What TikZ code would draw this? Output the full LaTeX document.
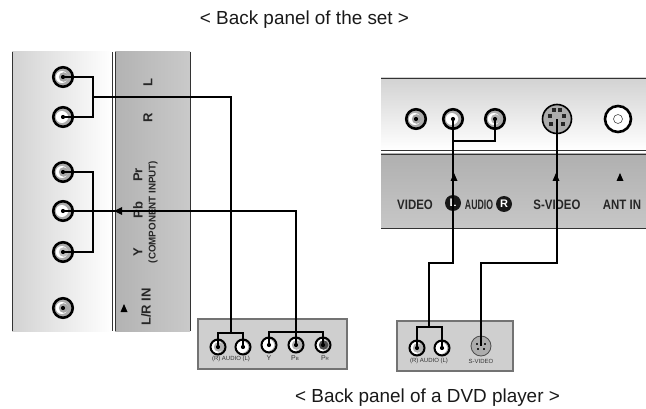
\documentclass[tikz,border=0pt]{standalone}
\usepackage{fontspec}
\setmainfont{Liberation Sans}
\newfontface\panelfont{Liberation Sans Bold}
\usepackage{tikz}
\usetikzlibrary{arrows.meta}

\tikzset{
    jack/.style={circle,draw=black,line width=2.6pt,fill=gray!65,inner sep=0pt,minimum size=19.5pt,
        path picture={\fill[white] ([xshift=-1.2pt]path picture bounding box.center) circle (6pt);
            \fill[#1] ([xshift=0.6pt]path picture bounding box.center) circle (4.8pt);
            \fill[black] (path picture bounding box.center) circle (2.1pt);}},
    smalljack/.style={jack=#1,line width=2pt,minimum size=15pt},
    wire/.style={line width=1.2pt,black},
    panellabel/.style={font=\panelfont\fontsize{13}{13}\selectfont,text=black!85,inner sep=0pt},
    sidelabel/.style={panellabel,rotate=90},
    boxlabel/.style={font=\fontsize{6}{6}\selectfont,text=black!80,inner sep=0pt},
    biglabel/.style={boxlabel,font=\fontsize{7}{7}\selectfont},
    title/.style={font=\fontsize{18.9}{20}\selectfont,text=black!90,inner sep=0pt},
    capmark/.style={circle,fill=black!90,text=white,inner sep=0pt,minimum size=16pt,font=\panelfont\fontsize{11}{11}\selectfont}
}

\begin{document}
\begin{tikzpicture}[x=1pt,y=-1pt,>=Latex]
\useasboundingbox (0,0) rectangle (646,409);

% Left panel
\shade[left color=gray!35,right color=white] (12,52) rectangle (112,331);
\shade[left color=gray!60,right color=gray!42] (115,52) rectangle (190,331);
\foreach \x in {12,112,115,190}{
    \draw[line width=0.8pt,black!80] (\x,52) -- (\x,331);
}

% Right panel
\shade[top color=gray!35,bottom color=white] (381,78) rectangle (646,150);
\shade[top color=gray!62,bottom color=gray!44] (381,154) rectangle (646,228);
\foreach \y in {78,150,154,228}{
    \draw[line width=0.8pt,black!80] (381,\y) -- (646,\y);
}

% DVD boxes
\draw[gray!90!black,line width=1.2pt,fill=gray!38] (198,319) rectangle (347,369);
\draw[gray!90!black,line width=1.2pt,fill=gray!38] (397,321) rectangle (513,371);

% Titles
\node[title] (titleset) at (304.5,20) {< Back panel of the set >};
\node[title] (titledvd) at (427.5,398) {< Back panel of a DVD player >};

% Left panel labels
\foreach \name/\y/\lab in {labl/83/L,labr/118/R}{
    \node[sidelabel] (\name) at (148,\y) {\lab};
}
\foreach \name/\y/\lab in {labpr/175/Pr,labpb/210/Pb,laby/252/Y}{
    \node[sidelabel] (\name) at (138,\y) {\lab};
}
\node[sidelabel,font=\panelfont\fontsize{9.8}{10}\selectfont] (labcomp) at (153,212) {(COMPONENT INPUT)};
\node[sidelabel] (lablr) at (146,307) {L/R IN};

% Right panel labels
\foreach \name/\x/\lab in {labvideo/415/VIDEO,labsvideo/557/S-VIDEO,labant/622/ANT IN}{
    \node[panellabel] (\name) at (\x,205) {\scalebox{0.88}[1.05]{\lab}};
}
\node[panellabel] (labaudio) at (479,205) {\scalebox{0.67}[1.05]{AUDIO}};
\node[capmark] (capl) at (453,203) {L};
\node[capmark] (capr) at (504,204) {R};

% Box labels
\node[boxlabel] (laba) at (231,359) {(R) AUDIO (L)};
\node[biglabel] (labby) at (269,358) {Y};
\node[biglabel] (labbb) at (295,358) {P{\fontsize{4.5}{5}\selectfont B}};
\node[biglabel] (labbr) at (325,358) {P{\fontsize{4.5}{5}\selectfont R}};
\node[boxlabel] (labc) at (429,361) {(R) AUDIO (L)};
\node[boxlabel] (labd) at (481,361) {S-VIDEO};

% Left panel jacks
\foreach \name/\y/\col in {ja/77/gray!70,jb/117/white,jc/172/gray!70,jd/211/white,je/252/gray!50,jf/308/gray!70}{
    \node[jack=\col] (\name) at (63,\y) {};
}

% Right panel jacks
\foreach \name/\x/\col in {jg/416/gray!70,jh/453/white,ji/495/gray!60}{
    \node[jack=\col] (\name) at (\x,119) {};
}
\node[circle,draw=black,line width=1.6pt,fill=gray!65,minimum size=29pt,inner sep=0pt] (jsv) at (557,119) {};
\foreach \dx/\dy in {-7/-3,7/-3,-6/5,6/5,-3/-9,3/-9}{
    \fill[black!85] (557+\dx-2,119+\dy-2) rectangle ++(4,4);
}
\node[circle,draw=black,line width=2.6pt,fill=white,minimum size=26pt,inner sep=0pt] (jant) at (618,119) {};
\node[circle,draw=black!70,line width=0.6pt,fill=white,minimum size=9pt,inner sep=0pt] (jantin) at (618,119) {};

% Box jacks
\foreach \name/\x/\y/\col in {ka/218/347/gray!60,kb/243/347/white,kc/269/345/white,kd/296/345/gray!60,ke/323/345/black!70,kf/417/348/gray!60,kg/442/348/white}{
    \node[smalljack=\col] (\name) at (\x,\y) {};
}
\node[circle,draw=black!70,line width=0.8pt,fill=gray!65,minimum size=20pt,inner sep=0pt] (ksv) at (481,346) {};
\foreach \dx/\dy in {-4/-2,4/-2,-3/3,3/3}{
    \fill[black!85] (481+\dx-1.3,346+\dy-1.3) rectangle ++(2.6,2.6);
}

% Arrow marks
\foreach \x/\y in {454/177,556/177,620/177,124/308}{
    \fill (\x-3.5,\y+4) -- (\x+3.5,\y+4) -- (\x,\y-4) -- cycle;
}
\fill (122,207) -- (122,215) -- (114,211) -- cycle;

% Joints
\coordinate (jointab) at (93,97);
\coordinate (jointka) at (231,333);
\coordinate (jointkb) at (296,332);
\coordinate (jointkf) at (429,327);
\coordinate (bendh) at (429,263);
\coordinate (bendsv) at (481,263);

% Wires
\draw[wire] (ja.center) -| (93,117) -- (jb.center);
\draw[wire] (jc.center) -| (93,252) -- (je.center);
\draw[wire] (jointab) -| (jointka);
\draw[wire] (jd.center) -| (jointkb);
\draw[wire] (ka.center) |- (jointka) -| (kb.center);
\draw[wire] (kc.center) |- (jointkb) -| (ke.center);
\draw[wire] (jointkb) -- (kd.center);
\draw[wire] (kf.center) |- (jointkf) -| (kg.center);
\draw[wire] (jointkf) -- (bendh) -| (jh.center);
\draw[wire] (ji.center) |- (453,141);
\draw[wire] (ksv.center) -- (bendsv) -| (jsv.center);

\end{tikzpicture}
\end{document}
